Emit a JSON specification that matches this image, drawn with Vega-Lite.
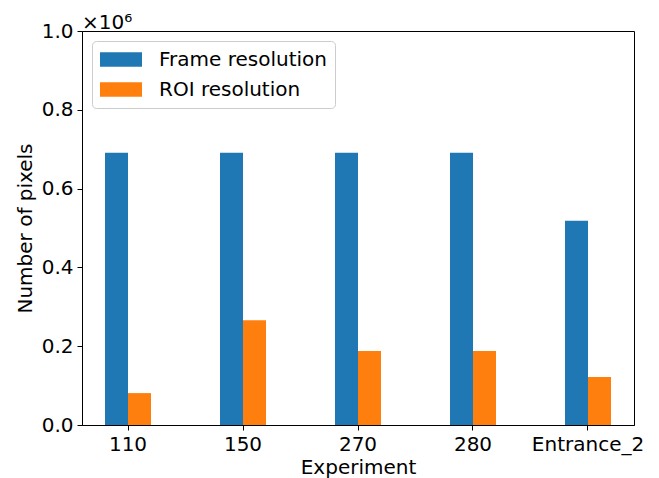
{
  "$schema": "https://vega.github.io/schema/vega-lite/v6.json",
  "width": 552,
  "height": 394,
  "autosize": {"type": "none"},
  "padding": {"left": 82, "top": 31, "right": 25, "bottom": 53},
  "background": "white",
  "config": {
    "font": "DejaVu Sans",
    "view": {"stroke": "#000", "strokeWidth": 1},
    "axis": {
      "grid": false,
      "domainColor": "#000",
      "domainWidth": 1,
      "tickColor": "#000",
      "tickWidth": 1,
      "tickSize": 5,
      "labelColor": "#000",
      "labelFontSize": 20,
      "labelPadding": 4,
      "titleColor": "#000",
      "titleFontSize": 20,
      "titleFontWeight": "normal"
    }
  },
  "title": {
    "text": "×10⁶",
    "anchor": "start",
    "frame": "group",
    "baseline": "alphabetic",
    "offset": 4,
    "dy": 32,
    "fontSize": 20,
    "fontWeight": "normal",
    "color": "#000"
  },
  "data": {
    "values": [
      {"experiment": "110", "series": "Frame resolution", "pixels": 691200},
      {"experiment": "110", "series": "ROI resolution", "pixels": 81000},
      {"experiment": "150", "series": "Frame resolution", "pixels": 691200},
      {"experiment": "150", "series": "ROI resolution", "pixels": 266000},
      {"experiment": "270", "series": "Frame resolution", "pixels": 691200},
      {"experiment": "270", "series": "ROI resolution", "pixels": 188000},
      {"experiment": "280", "series": "Frame resolution", "pixels": 691200},
      {"experiment": "280", "series": "ROI resolution", "pixels": 188000},
      {"experiment": "Entrance_2", "series": "Frame resolution", "pixels": 518400},
      {"experiment": "Entrance_2", "series": "ROI resolution", "pixels": 122000}
    ]
  },
  "mark": {"type": "bar"},
  "encoding": {
    "x": {
      "field": "experiment",
      "type": "nominal",
      "sort": null,
      "scale": {"paddingInner": 0.6, "paddingOuter": 0.2},
      "axis": {"title": "Experiment", "labelAngle": 0, "titlePadding": 3}
    },
    "xOffset": {
      "field": "series",
      "type": "nominal",
      "sort": null,
      "scale": {"paddingInner": 0, "paddingOuter": 0}
    },
    "y": {
      "field": "pixels",
      "type": "quantitative",
      "scale": {"domain": [0, 1000000], "nice": false, "zero": true},
      "axis": {
        "title": "Number of pixels",
        "values": [0, 200000, 400000, 600000, 800000, 1000000],
        "labelExpr": "format(datum.value / 1000000, '.1f')",
        "titlePadding": 6
      }
    },
    "color": {
      "field": "series",
      "type": "nominal",
      "sort": null,
      "scale": {"domain": ["Frame resolution", "ROI resolution"], "range": ["#1f77b4", "#ff7f0e"]},
      "legend": {
        "title": null,
        "orient": "top-left",
        "offset": 10,
        "padding": 8,
        "labelFontSize": 20,
        "labelColor": "#000",
        "labelLimit": 0,
        "labelOffset": 38,
        "rowPadding": 9,
        "symbolType": "M-1,-0.7H3V0.7H-1Z",
        "symbolSize": 441,
        "symbolStrokeWidth": 0,
        "symbolOpacity": 1,
        "strokeColor": "#cccccc",
        "fillColor": "rgba(255,255,255,0.8)",
        "cornerRadius": 4
      }
    }
  }
}
